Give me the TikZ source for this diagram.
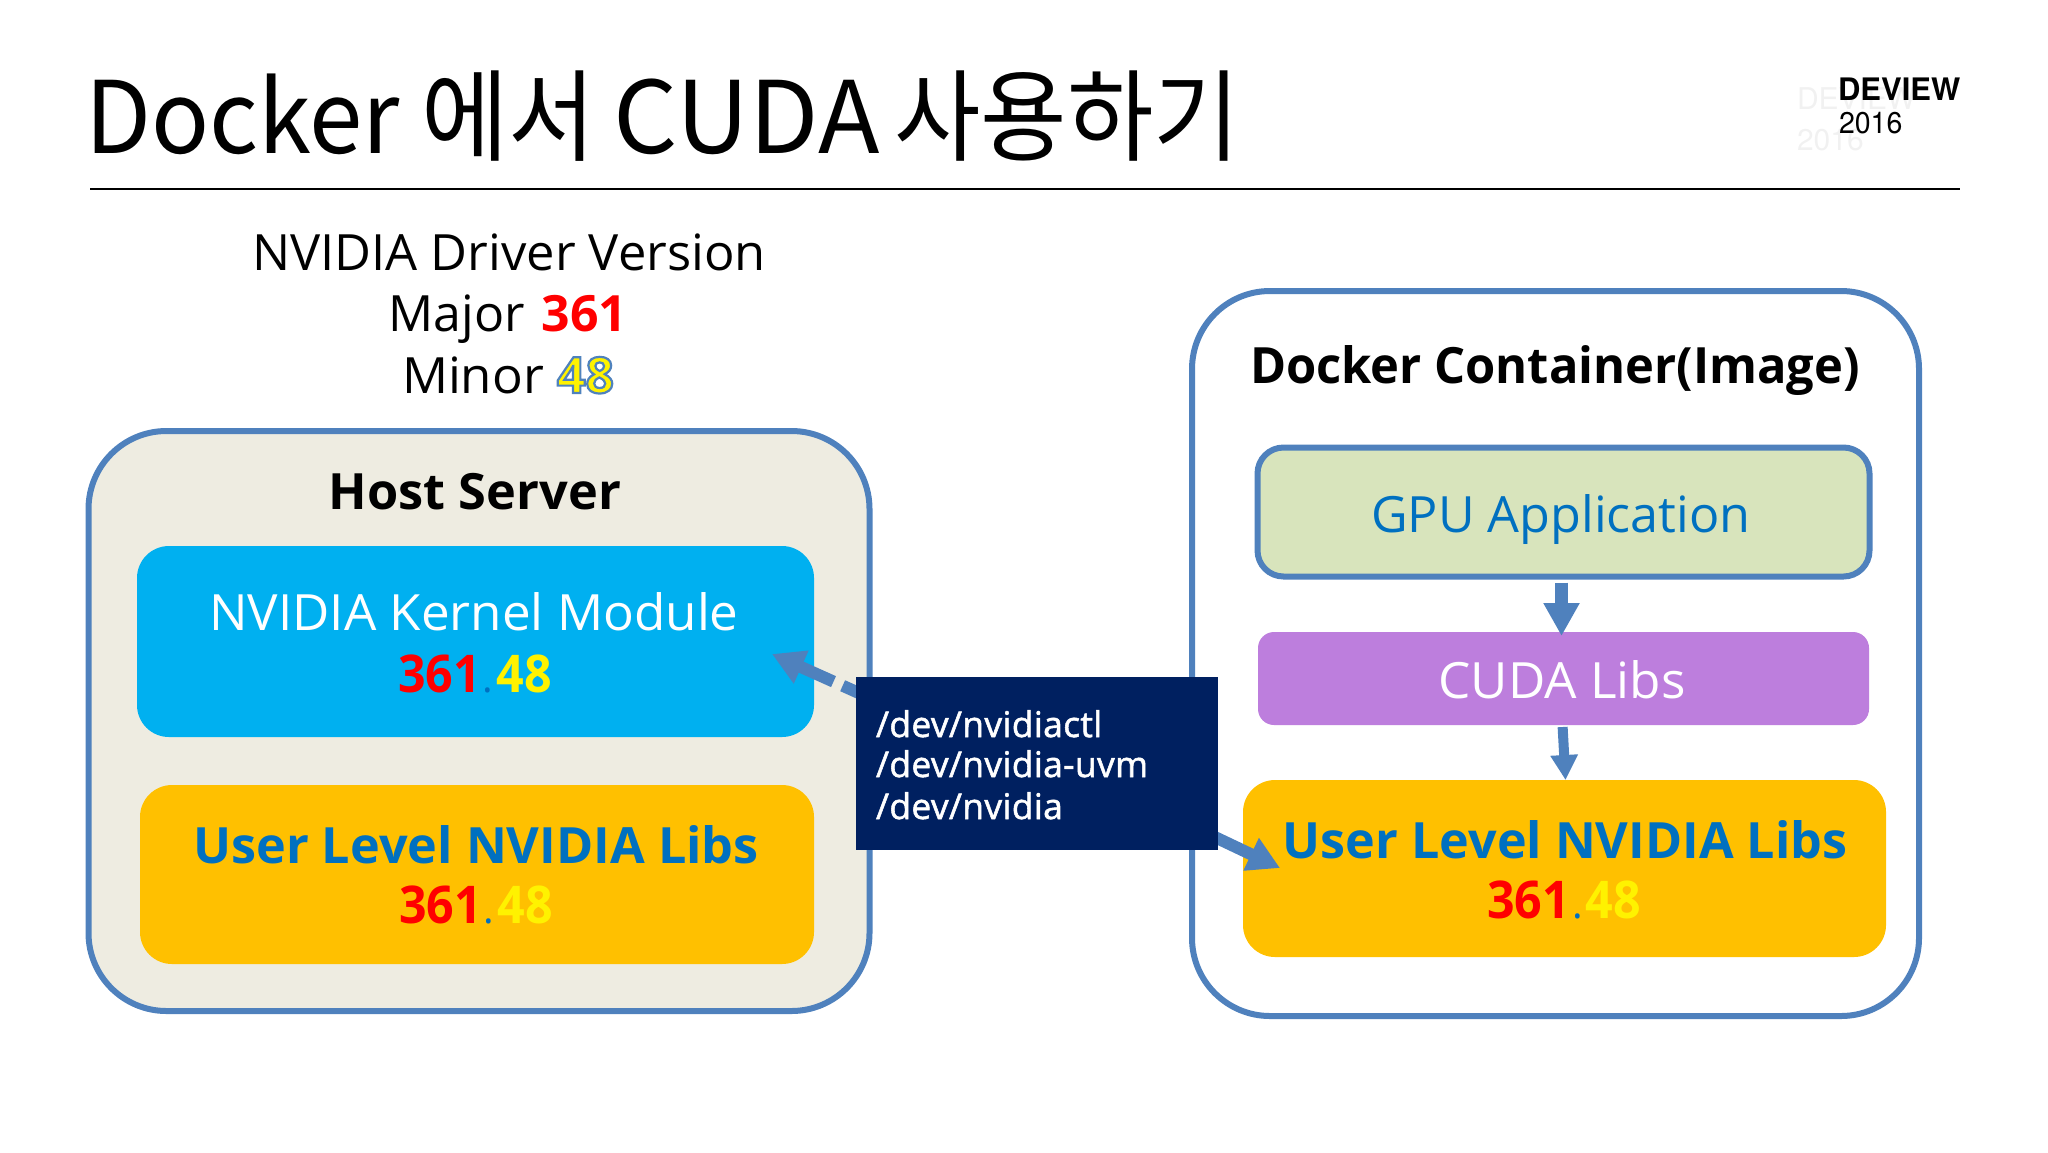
\documentclass[tikz,border=0pt]{standalone}
\usepackage{fontspec}
\usepackage{graphicx}
\usetikzlibrary{arrows.meta}
\setmainfont{Open Sans}
\newfontfamily\krf{Noto Sans CJK KR}
\newfontfamily\logof{TeX Gyre Heros}
\newfontfamily\devf{Open Sans}[FakeBold=1.5,LetterSpace=1]
\definecolor{edgeblue}{HTML}{4F81BD}
\definecolor{hostfill}{HTML}{EEECE1}
\definecolor{kernelfill}{HTML}{00B0F0}
\definecolor{amber}{HTML}{FFC000}
\definecolor{appfill}{HTML}{D8E4BC}
\definecolor{cudafill}{HTML}{BD7EDD}
\definecolor{navy}{HTML}{002060}
\definecolor{textblue}{HTML}{0070C0}
\definecolor{ghost}{HTML}{F1F1F1}
\newcommand\bx[6]{\pgfmathsetmacro\cxx{(#3+#5)/2}\pgfmathsetmacro\cyy{(#4+#6)/2}%
  \node[#2,minimum width={(#5-#3)*0.5pt},minimum height={(#6-#4)*0.5pt}] (#1) at (\cxx,\cyy) {};}
\newcommand\sx[2]{\scalebox{#1}[1]{#2}}
\newcommand\outl[1]{\special{pdf:code q 2 Tr 1.1 w 0.31 0.51 0.74 RG}#1\special{pdf:code Q}}
\newcommand\ver{{\fontsize{26}{26}\selectfont\sx{.93}{\bfseries\textcolor{red}{361}}\hspace{1pt}\textcolor{textblue}{\fontsize{20}{20}\selectfont.}\hspace{1.5pt}\sx{.93}{\bfseries\textcolor{yellow}{48}}}}
\tikzset{
  x=0.5pt,y=-0.5pt,
  box/.style={rectangle,outer sep=0pt,inner sep=0pt},
  frame/.style={box,draw=edgeblue,line width=3pt,rounded corners=39pt},
  solid box/.style={box,fill=#1,rounded corners=16pt},
  lbl/.style={anchor=base,inner sep=0pt,outer sep=0pt},
  big/.style={lbl,font=\fontsize{25}{25}\selectfont},
  hd/.style={lbl,font=\fontsize{25}{25}\selectfont\bfseries},
  dev/.style={lbl,anchor=base west,text=white,font=\fontsize{17.7}{17.7}\devf},
  flow/.style={edgeblue,line width=#1},
}
\begin{document}
\begin{tikzpicture}
\useasboundingbox (0,0) rectangle (2048,1152);
% title
\node[lbl,anchor=base west,font=\fontsize{50}{50}\krf] (title) at (85,153) {\sx{.96}{Docker}\hspace{11pt}\sx{.947}{에서}\hspace{9pt}\sx{1.01}{CUDA}\hspace{7.5pt}\sx{.94}{사용하기}};
\coordinate (ruleL) at (90,189);
\coordinate (ruleR) at (1960,189);
\draw[line width=1.2pt] (ruleL) -- (ruleR);
% logo
\node[lbl,anchor=base west,text=ghost,font=\fontsize{15}{15}\logof] (ghostA) at (1797,109) {DEVIEW};
\node[lbl,anchor=base west,text=ghost,font=\fontsize{15}{15}\logof] (ghostB) at (1797,150) {2016};
\node[lbl,anchor=base west,font=\fontsize{15.5}{15.5}\logof\bfseries] (logoA) at (1838,100) {DEVIEW};
\node[lbl,anchor=base west,font=\fontsize{15}{15}\logof] (logoB) at (1839,133) {\sx{.95}{2016}};
% version
\node[big] (ver1) at (509,270) {\sx{1.013}{NVIDIA Driver Version}};
\node[big] (ver2) at (508,331) {Major\hspace{2pt} \textcolor{red}{\bfseries 361}};
\node[big] (ver3) at (508,393) {\sx{1.02}{Minor} \textcolor{yellow}{\bfseries\outl{48}}};
% host
\bx{host}{frame,fill=hostfill}{88.5}{431}{869.5}{1011}
\bx{kernel}{solid box=kernelfill}{137}{546}{814}{737}
\bx{hostlibs}{solid box=amber}{140}{785}{814}{964}
\node[hd] (hostT) at (475,509) {\sx{1.01}{Host Server}};
\node[big,text=white] (kernelT) at (474,630) {\sx{1.023}{NVIDIA Kernel Module}};
\node[big] (kernelV) at (475,692) {\ver};
\node[hd,text=textblue] (hostlibsT) at (476,863) {\sx{1.007}{User Level NVIDIA Libs}};
\node[big] (hostlibsV) at (476,923) {\ver};
% container
\bx{cont}{frame,fill=white}{1192}{291}{1919}{1016}
\bx{gpu}{box,draw=edgeblue,line width=3pt,fill=appfill,rounded corners=13pt}{1257.5}{447.5}{1869.5}{576.5}
\bx{cuda}{solid box=cudafill,rounded corners=8pt}{1258}{632}{1869}{725}
\bx{contlibs}{solid box=amber}{1243}{780}{1886}{957}
\node[hd] (contT) at (1555,383) {\sx{.977}{Docker Container(Image)}};
\node[big,text=textblue] (gpuT) at (1561,532) {\sx{1.007}{GPU Application}};
\node[big,text=white] (cudaT) at (1562,698) {\sx{1.025}{CUDA Libs}};
\node[hd,text=textblue] (contlibsT) at (1565,858) {\sx{1.005}{User Level NVIDIA Libs}};
\node[big] (contlibsV) at (1564,918) {\ver};
% connectors
\draw[flow=6.5pt,-{Triangle[length=16.5pt,width=17pt]},shorten <=3pt,shorten >=-2pt] ([xshift=-1pt]gpu.south) -- ([xshift=-1pt]cuda.north);
\draw[flow=5pt,-{Triangle[length=12.5pt,width=13pt]},shorten <=1pt] ([xshift=-0.5pt]cuda.south) -- ([xshift=0.5pt]contlibs.north);
\coordinate (kernelTip) at (772,654);
\coordinate (contTip) at (1280,868);
\coordinate (devA) at (870,698);
\coordinate (devB) at (1200,830);
\draw[flow=6pt,dash pattern=on 15pt off 5pt on 20pt off 0pt,-{Triangle[length=16pt,width=17pt]}] (devA) -- (kernelTip);
\draw[flow=6pt,-{Triangle[length=16pt,width=17pt]}] (devB) -- (contTip);
% devices
\bx{devs}{box,fill=navy}{856}{677}{1218}{850}
\node[dev] (d1) at (876,737) {/dev/nvidiactl};
\node[dev] (d2) at (876,777) {/dev/nvidia-uvm};
\node[dev] (d3) at (876,819) {/dev/nvidia};
\end{tikzpicture}
\end{document}
